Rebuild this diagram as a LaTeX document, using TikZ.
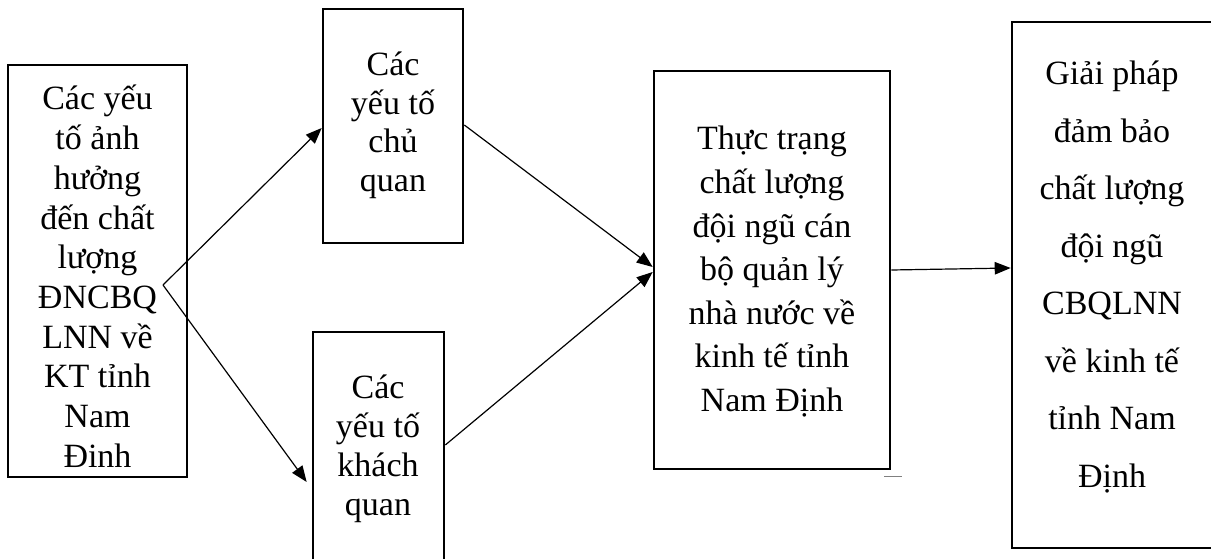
\documentclass[tikz,border=0pt]{standalone}
\usepackage{fontspec}
\setmainfont{Liberation Serif}
\usetikzlibrary{arrows.meta}

% centred lines in a \vtop: the baseline is that of the first line
\newcommand\rowstack[1]{\vtop{\halign{\hfil##\hfil\cr#1\crcr}}}

\begin{document}
\begin{tikzpicture}[x=1pt,y=-1pt,
  box/.style={draw, line width=2.6pt, rectangle, inner sep=0pt},
  txt/.style={anchor=base, inner sep=0pt},
  arr/.style={line width=1.2pt, -{Triangle[length=16pt,width=12.5pt]}},
  fs/.style={font=\fontsize{34}{#1}\selectfont}]
\useasboundingbox (0,0) rectangle (1211,559);
\clip (0,0) rectangle (1211,559);

% boxes
\node[box, minimum width=179, minimum height=412] (b1) at (97.5,271) {};
\node[box, minimum width=140, minimum height=234] (b2) at (393,126) {};
\node[box, minimum width=131, minimum height=288] (b3) at (378.5,476) {};
\node[box, minimum width=236, minimum height=398] (b4) at (772,270) {};
\node[box, minimum width=228, minimum height=526] (b5) at (1126,285) {};

% texts
\node[txt, fs=39.7] (t1) at (97.5,110) {\rowstack{Các yếu\cr tố ảnh\cr hưởng\cr đến chất\cr lượng\cr ĐNCBQ\cr LNN về\cr KT tỉnh\cr Nam\cr Đinh}};
\node[txt, fs=38.5] (t2) at (393,76) {\rowstack{Các\cr yếu tố\cr chủ\cr quan}};
\node[txt, fs=39] (t3) at (378,398) {\rowstack{Các\cr yếu tố\cr khách\cr quan}};
\node[txt, fs=43.6] (t4) at (772,150) {\rowstack{Thực trạng\cr chất lượng\cr đội ngũ cán\cr bộ quản lý\cr nhà nước về\cr kinh tế tỉnh\cr Nam Định}};
\node[txt, fs=57.5] (t5) at (1112,85) {\rowstack{Giải pháp\cr đảm bảo\cr chất lượng\cr đội ngũ\cr CBQLNN\cr về kinh tế\cr tỉnh Nam\cr Định}};

% connectors
\coordinate (j) at (163,285);
\draw[arr] (j) -- ([yshift=-2pt]b2.west);
\draw[arr] (j) -- ([shift={(-5pt,-6pt)}]b3.west);
\draw[arr] ([yshift=1pt]b2.east) -- ([yshift=3pt]b4.west);
\draw[arr] ([yshift=31pt]b3.east) -- ([yshift=-2pt]b4.west);
\draw[arr] (b4.east) -- ([yshift=17pt]b5.west);

% short stray stroke under the corner of the middle box
\draw[gray, line width=1.5pt] (b4.south east) ++(-7,6) coordinate (s1) -- ++(18,0) coordinate (s2);
\end{tikzpicture}
\end{document}
